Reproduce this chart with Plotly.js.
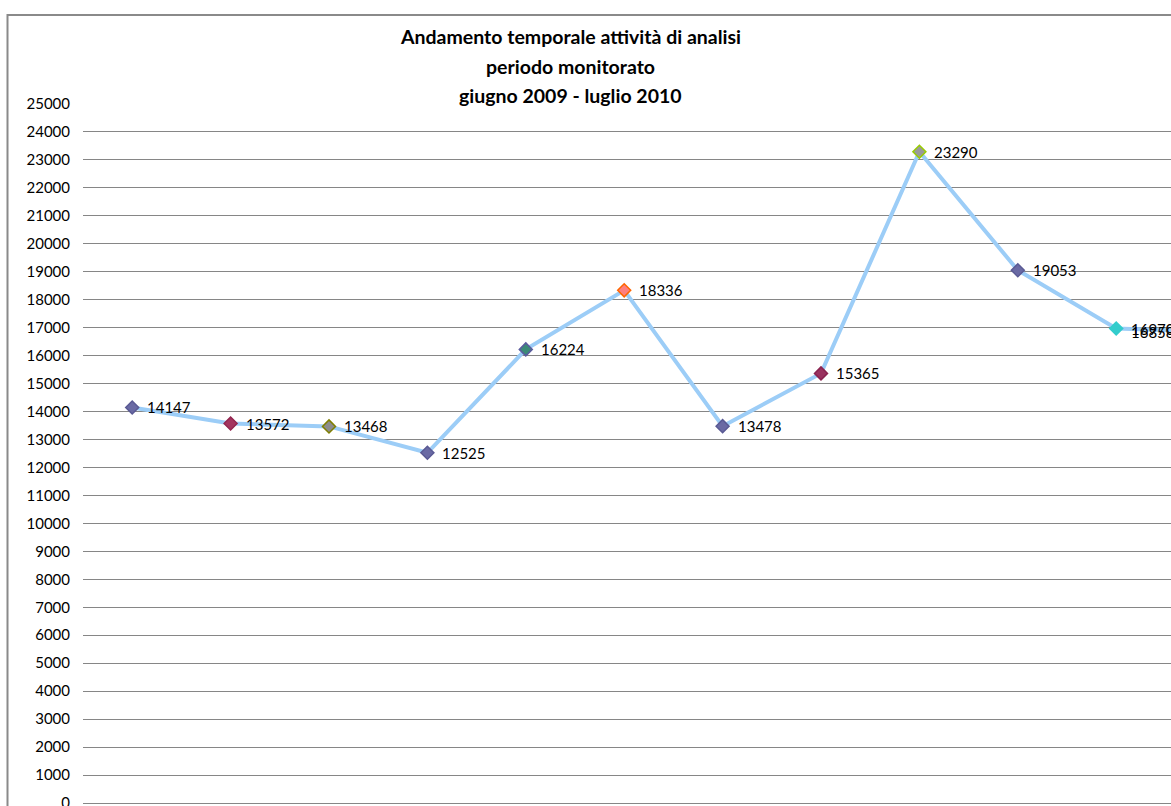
<!DOCTYPE html>
<html>
<head>
<meta charset="utf-8">
<script src="https://cdn.plot.ly/plotly-3.0.1.min.js"></script>
<style>
  html, body { margin: 0; padding: 0; background: #fff; overflow: hidden; }
  #chart { width: 1171px; height: 806px; }
</style>
</head>
<body>
<div id="chart"></div>
<script>
// Monthly analysis counts
const months = [
  "giugno 2009", "luglio 2009", "agosto 2009", "settembre 2009",
  "ottobre 2009", "novembre 2009", "dicembre 2009", "gennaio 2010",
  "febbraio 2010", "marzo 2010", "aprile 2010", "maggio 2010"
];
const analisi = [14147, 13572, 13468, 12525, 16224, 18336, 13478, 15365, 23290, 19053, 16970, 16858];

// Per-point marker fill / outline colours
const markerFill = ["#6A6AA4", "#A3355F", "#8C8C8C", "#6A6AA4", "#3B8A78", "#FF7F7F",
                    "#6A6AA4", "#9A3360", "#9A9A9A", "#6A6AA4", "#33CCCC", "#6A6AA4"];
const markerLine = ["#5A5A94", "#93254F", "#7F7F00", "#5A5A94", "#5B5B9E", "#FF6600",
                    "#5A5A94", "#8A2350", "#99CC00", "#5A5A94", "#33CCCC", "#5A5A94"];

const titleLines = [
  "Andamento temporale attività di analisi",
  "periodo monitorato",
  "giugno 2009 - luglio 2010"
];
const yTicks = [];
for (let v = 0; v <= 25000; v += 1000) yTicks.push(v);

const FONT = "Lato, 'Open Sans', sans-serif";

const trace = {
  type: "scatter",
  mode: "lines+markers",
  x: months,
  y: analisi,
  cliponaxis: false,
  line: { color: "#9CCDF7", width: 4 },
  marker: {
    symbol: "diamond",
    size: 10,
    color: markerFill,
    line: { color: markerLine, width: 1.5 }
  },
  hoverinfo: "x+y"
};

const L = 83, T = 104, B = 3, W = 1171, H = 806;
const plotW = W - L, plotH = H - T - B;
const px = x => (x - L) / plotW;
const py = y => (H - B - y) / plotH;

const annotations = titleLines.map((t, i) => ({
  text: "<b>" + t + "</b>",
  xref: "paper", yref: "paper",
  x: px(570), y: py([37, 67, 96][i]),
  xanchor: "center", yanchor: "middle",
  showarrow: false,
  font: { family: FONT, size: 19.5, color: "#000" }
}));

// Value labels to the right of each point; the last one sits beside the previous point
analisi.forEach((v, i) => {
  annotations.push({
    text: String(v),
    xref: "x", yref: "y",
    x: Math.min(i, 10), y: v,
    xanchor: "left", yanchor: "middle",
    xshift: 13,
    showarrow: false,
    font: { family: FONT, size: 15, color: "#000" }
  });
});

const layout = {
  width: W, height: H,
  margin: { l: L, r: 0, t: T, b: B },
  paper_bgcolor: "#fff",
  plot_bgcolor: "#fff",
  showlegend: false,
  xaxis: {
    type: "category",
    range: [-0.5, -0.5 + plotW / 98.4],
    showgrid: false,
    showline: false,
    zeroline: false,
    showticklabels: false,
    ticks: "",
    automargin: false,
    fixedrange: true
  },
  yaxis: {
    range: [0, 25000],
    tickvals: yTicks,
    ticktext: yTicks.map(String),
    showgrid: true,
    gridcolor: "#868686",
    gridwidth: 1,
    zeroline: true,
    zerolinecolor: "#868686",
    zerolinewidth: 1,
    showline: false,
    ticks: "",
    ticklabelstandoff: 12,
    ticklabeloverflow: "allow",
    tickfont: { family: FONT, size: 15, color: "#000" },
    automargin: false,
    fixedrange: true
  },
  shapes: [{
    type: "rect", xref: "paper", yref: "paper",
    x0: px(7.5), x1: 1.5, y0: -0.5, y1: py(15),
    line: { color: "#8A8A8A", width: 2 },
    layer: "below"
  }],
  annotations: annotations
};

Plotly.newPlot("chart", [trace], layout, { displayModeBar: false, staticPlot: true });
</script>
</body>
</html>
